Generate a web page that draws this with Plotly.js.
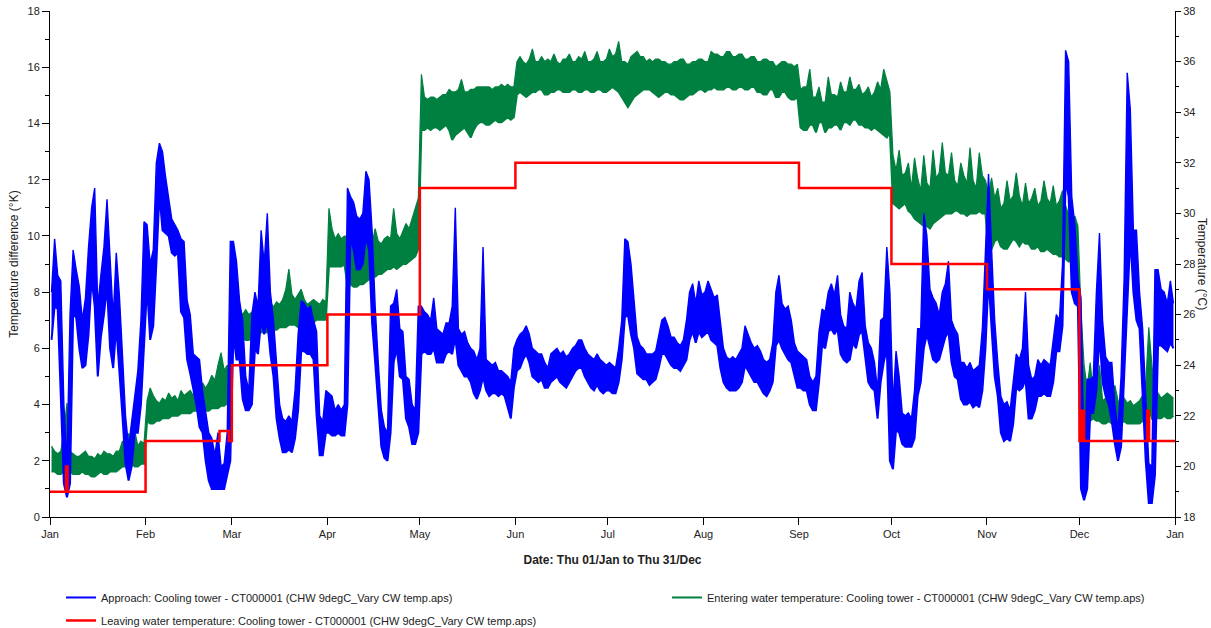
<!DOCTYPE html>
<html>
<head>
<meta charset="utf-8">
<script src="https://cdn.plot.ly/plotly-3.0.1.min.js"></script>
<style>html,body{margin:0;padding:0;background:#fff}#chart{width:1211px;height:628px}</style>
</head>
<body>
<div id="chart"></div>
<script>
// ---- data (year 2015: Thu 01/Jan to Thu 31/Dec), daily high / low of hourly readings ----
const monthStarts = ['2015-01-01','2015-02-01','2015-03-01','2015-04-01','2015-05-01','2015-06-01','2015-07-01','2015-08-01','2015-09-01','2015-10-01','2015-11-01','2015-12-01','2016-01-01'];
const monthLabels = ['Jan','Feb','Mar','Apr','May','Jun','Jul','Aug','Sep','Oct','Nov','Dec','Jan'];

// Approach (K)
const approachHigh = [
  8.0,9.9,8.6,8.4,4.0,1.9,7.2,9.5,8.8,8.2,7.0,7.8,9.6,11.0,11.7,7.5,8.6,9.6,11.3,9.0,7.1,9.4,7.9,5.8,3.6,2.5,3.4,4.4,5.2,7.0,10.5,
  10.4,9.0,9.5,12.6,13.3,13.0,12.1,11.4,10.6,10.4,10.2,9.9,9.8,7.7,7.2,5.8,5.7,5.6,4.5,3.8,3.0,2.8,2.2,3.0,1.8,1.9,3.0,9.8,
  9.8,9.1,7.7,7.0,5.0,4.5,7.2,8.0,7.5,10.2,9.0,10.8,8.0,7.0,5.5,4.0,3.5,3.4,3.6,3.4,4.5,6.5,7.7,7.6,7.4,7.5,7.0,6.6,3.6,3.4,4.5,
  4.4,4.3,3.8,4.0,3.8,4.0,11.7,11.4,11.2,10.7,10.6,10.8,12.3,12.0,10.2,7.5,5.5,3.8,3.2,3.0,7.5,7.6,8.1,6.7,6.6,5.0,4.9,4.0,3.8,7.5,
  7.5,7.3,7.2,7.0,7.8,6.7,6.6,6.5,6.9,6.9,7.5,11.0,6.7,6.5,6.6,6.2,6.0,5.9,5.6,6.0,9.6,5.6,5.5,5.4,5.5,5.2,5.2,5.1,5.0,4.8,6.0,
  6.3,6.5,6.6,6.8,6.5,6.0,5.9,5.8,5.8,5.5,5.3,5.8,5.9,6.0,5.8,5.9,5.7,5.8,6.0,6.1,6.3,6.3,6.0,5.8,5.7,5.6,5.8,5.6,5.5,5.4,
  5.5,5.4,5.3,6.0,7.0,9.9,9.8,9.0,7.6,6.4,6.1,6.0,5.8,5.8,5.8,5.9,6.4,7.0,7.1,6.8,6.4,6.4,6.2,6.1,6.3,7.0,8.0,8.3,7.6,8.4,7.9,
  8.0,8.4,8.1,7.8,7.9,7.0,6.0,5.7,5.6,5.7,5.6,5.8,6.0,6.8,6.5,6.2,6.0,6.1,5.9,5.6,5.5,5.6,6.2,8.0,8.6,7.6,7.4,7.5,7.0,6.2,5.9,
  5.8,5.7,5.6,5.0,4.8,5.0,6.6,7.4,7.3,8.0,8.3,7.9,8.6,7.2,6.8,6.7,8.0,7.6,7.4,8.4,8.7,6.8,6.2,6.0,5.5,4.5,7.0,7.1,9.6,8.0,
  4.0,5.9,5.0,3.7,3.6,3.7,3.5,4.5,6.7,6.7,10.8,10.0,8.1,7.8,7.6,7.2,8.0,8.3,9.1,7.0,6.7,6.5,5.5,5.5,5.3,5.5,5.2,5.3,5.4,6.7,9.7,
  12.2,9.5,7.0,5.5,4.3,4.0,4.1,3.8,4.8,5.8,5.6,6.0,8.0,5.4,4.9,5.0,5.6,5.4,5.6,5.5,5.4,6.3,7.2,7.0,9.0,16.6,16.2,11.4,10.4,8.5,
  7.8,1.9,4.9,4.9,5.0,8.0,10.1,7.0,5.7,5.5,5.5,4.0,3.1,5.0,8.5,15.8,14.5,10.2,10.2,8.0,6.7,4.3,1.9,1.8,8.8,8.8,8.1,8.0,7.6,8.4,7.6
];
const approachLow = [
  6.3,7.5,7.4,4.0,1.2,0.7,1.2,7.2,7.1,6.0,5.3,5.4,6.5,8.5,7.5,5.0,6.4,7.2,8.2,6.0,5.3,6.8,5.3,3.6,1.9,1.3,1.8,3.0,3.0,4.0,6.1,
  8.2,6.3,6.8,9.0,11.5,10.2,10.1,10.0,9.4,9.3,9.4,7.3,7.1,5.6,5.1,4.6,4.0,3.2,3.0,2.0,1.3,1.0,1.0,1.0,1.0,1.0,1.5,2.0,
  6.5,5.6,5.6,4.2,3.8,3.8,4.0,6.0,5.8,7.0,6.5,7.0,5.8,5.0,3.5,2.8,2.3,2.3,2.4,2.3,2.8,3.8,5.9,5.9,5.8,5.8,5.6,3.6,2.2,2.2,3.0,
  3.0,2.9,2.9,3.0,2.9,2.9,4.0,10.0,9.5,8.8,8.8,9.0,10.0,9.5,6.9,5.5,3.8,2.5,2.1,2.0,3.0,5.5,6.0,5.0,4.9,3.5,3.2,2.6,2.6,3.0,
  5.8,5.9,5.8,5.8,6.0,5.5,5.5,5.5,5.8,5.9,5.8,6.4,5.4,5.2,5.0,5.0,4.8,4.4,4.2,4.5,5.0,4.5,4.3,4.4,4.4,4.3,4.4,4.3,3.9,3.5,4.6,
  5.2,5.3,5.6,5.8,5.5,5.0,4.9,4.8,4.9,4.6,4.6,4.8,4.9,5.0,4.8,4.7,4.6,4.8,5.0,5.2,5.3,5.3,5.0,4.8,4.6,4.5,4.7,4.5,4.4,4.5,
  4.5,4.4,4.4,4.8,5.6,7.1,7.2,6.5,6.0,5.1,5.0,4.9,4.9,4.7,4.8,4.9,5.3,5.8,5.8,5.6,5.4,5.3,5.3,5.2,5.4,5.6,6.3,6.6,6.2,6.6,6.4,
  6.5,6.6,6.3,6.2,6.1,5.3,4.8,4.6,4.5,4.5,4.5,4.6,4.8,5.4,5.2,5.0,4.8,4.8,4.6,4.4,4.3,4.5,4.8,6.1,6.3,6.0,5.8,5.6,5.5,5.0,4.6,
  4.6,4.5,4.5,4.0,3.8,3.8,4.8,6.1,6.0,6.6,6.7,6.5,6.7,5.8,5.6,5.5,5.6,6.2,6.0,6.5,6.6,5.6,4.8,4.6,4.5,3.5,4.8,5.5,6.0,2.0,
  1.7,3.1,3.0,2.6,2.5,2.5,2.5,2.8,4.3,4.8,6.0,6.5,6.0,5.6,5.5,5.6,6.0,6.4,6.6,5.5,5.0,4.9,4.2,4.0,4.0,4.1,3.9,4.0,3.9,4.5,6.0,
  8.5,6.7,5.0,4.3,3.0,2.7,2.8,2.7,3.3,4.6,4.5,4.6,4.9,3.5,3.5,3.8,4.3,4.3,4.4,4.3,4.3,4.8,5.9,5.9,6.8,12.0,11.4,8.0,7.6,7.5,
  1.0,0.6,1.0,3.7,3.7,4.5,6.5,4.8,4.3,4.0,3.4,2.6,2.0,2.5,5.0,8.0,10.0,8.0,7.0,6.7,4.3,2.0,0.5,0.5,1.5,6.1,6.1,6.0,5.9,6.2,6.0
];

// Entering water temperature (degC)
const enteringHigh = [
  20.8,20.6,20.5,20.6,21.4,22.5,20.6,20.5,20.4,20.4,20.5,20.6,20.4,20.4,20.3,20.5,20.4,20.6,20.5,20.5,20.4,20.6,20.6,21.0,20.8,21.3,20.9,21.4,20.8,21.0,20.9,
  22.6,23.1,22.8,22.6,22.5,22.7,22.6,22.9,22.7,22.8,22.6,23.0,22.8,22.9,23.0,22.8,23.1,23.0,23.3,23.1,23.3,23.6,23.4,24.0,24.5,23.8,24.0,23.6,
  26.6,26.7,26.2,26.0,26.2,26.0,26.1,26.0,26.4,26.2,26.4,27.0,26.5,26.3,26.5,26.4,26.6,27.0,27.8,26.8,26.6,26.8,27.0,26.6,26.4,26.5,26.6,26.5,26.4,26.6,26.5,
  30.2,29.4,29.0,29.2,29.0,29.1,29.1,28.8,28.8,28.9,28.9,29.0,29.0,28.7,28.8,29.4,28.9,28.8,29.0,29.1,29.0,30.2,29.2,29.0,29.3,29.6,29.4,29.8,30.2,30.6,
  35.5,34.6,34.5,34.6,34.6,34.5,34.6,34.7,34.7,34.9,34.8,34.8,34.9,35.3,34.8,34.8,34.9,34.9,35.0,35.0,35.0,35.0,35.0,34.9,35.0,35.0,35.1,35.0,35.1,35.0,35.0,
  36.0,36.2,36.0,35.9,36.1,36.5,36.0,36.0,36.2,36.0,36.1,36.0,36.3,36.0,35.9,36.1,36.1,36.3,36.0,36.0,36.2,36.1,36.4,36.0,36.0,36.1,36.4,36.0,36.0,36.1,
  36.5,36.2,36.3,36.8,36.0,36.0,35.9,36.2,36.3,36.4,36.2,36.2,36.0,36.1,36.0,36.1,36.1,36.0,36.0,35.9,35.9,36.0,36.0,36.1,36.1,35.9,35.9,36.0,36.0,36.1,36.1,
  36.0,36.0,36.4,36.3,36.3,36.2,36.2,36.4,36.4,36.2,36.2,36.3,36.3,36.1,36.1,36.2,36.2,36.0,36.0,36.1,36.1,36.0,36.0,35.8,35.9,36.0,36.0,35.9,35.9,35.8,35.9,
  34.9,35.0,35.0,35.7,34.6,34.6,35.0,34.4,34.4,35.4,34.7,34.7,34.6,35.2,34.8,34.8,35.4,34.9,34.9,35.1,34.7,34.8,35.0,34.6,34.8,35.2,34.9,35.7,35.2,34.8,
  32.3,31.7,32.5,31.5,31.6,32.0,31.0,32.2,31.4,30.9,32.3,31.2,31.0,32.5,31.4,31.6,32.8,31.6,31.5,32.4,31.3,31.1,32.0,31.5,31.2,32.6,31.3,31.0,32.4,31.5,31.3,
  30.8,31.4,30.6,31.0,30.2,30.4,31.3,30.5,30.7,31.6,30.7,30.3,31.2,30.4,30.6,31.0,30.3,30.5,31.3,30.6,30.4,31.1,30.3,30.5,30.9,30.3,29.9,29.6,29.9,29.5,
  26.1,24.0,23.1,24.1,22.8,23.0,24.0,22.6,22.7,22.5,22.8,23.2,22.6,22.5,22.7,22.5,22.6,22.4,22.5,22.6,22.8,23.2,25.5,24.0,22.9,22.9,22.7,22.8,22.9,22.8,22.7
];
const enteringLow = [
  19.8,19.8,19.7,19.7,19.8,19.8,19.8,19.7,19.7,19.7,19.8,19.7,19.7,19.6,19.6,19.7,19.8,19.7,19.7,19.8,19.8,19.8,19.9,20.0,20.0,20.1,20.1,20.0,20.0,20.1,20.1,
  21.8,21.7,21.7,21.8,21.8,21.9,21.9,21.9,22.0,22.0,22.0,22.1,22.1,22.1,22.1,22.2,22.2,22.2,22.2,22.2,22.2,22.3,22.3,22.3,22.4,22.4,22.5,22.5,
  25.1,25.0,25.0,25.1,25.0,25.0,25.1,25.2,25.2,25.3,25.3,25.3,25.3,25.4,25.4,25.5,25.5,25.5,25.6,25.6,25.6,25.5,25.5,25.6,25.6,25.7,25.7,25.8,25.8,25.8,25.8,
  27.9,27.9,27.9,27.9,27.9,28.0,27.2,27.2,27.1,27.1,27.2,27.2,27.3,27.4,27.5,27.5,27.6,27.6,27.7,27.8,27.8,27.9,27.8,27.9,28.0,28.0,28.1,28.2,28.3,28.6,
  33.3,33.3,33.4,33.3,33.4,33.4,33.3,33.4,33.5,33.3,32.9,33.1,33.2,33.3,33.4,33.2,33.0,33.3,33.5,33.6,33.6,33.5,33.5,33.6,33.7,33.6,33.6,33.7,33.8,33.7,33.8,
  34.7,34.8,34.7,34.6,34.7,34.8,34.8,34.9,34.9,34.7,34.7,34.8,34.8,34.9,34.9,34.8,34.8,34.8,34.9,34.9,34.8,34.8,34.9,34.9,34.8,34.8,34.9,34.9,34.8,34.8,
  34.9,35.0,34.9,34.8,34.6,34.4,34.2,34.4,34.6,34.7,34.8,34.9,34.9,34.9,34.8,34.7,34.6,34.7,34.8,34.8,34.7,34.7,34.6,34.5,34.5,34.6,34.7,34.7,34.8,34.9,34.9,
  34.8,34.9,34.9,35.0,34.9,34.9,34.9,35.0,35.0,34.9,34.9,35.0,35.0,34.9,34.9,35.0,35.0,34.8,34.8,34.7,34.7,34.9,34.9,34.6,34.6,34.8,34.8,34.6,34.5,34.5,34.6,
  33.4,33.3,33.3,33.5,33.5,33.2,33.6,33.6,33.2,33.4,33.4,33.5,33.5,33.3,33.6,33.6,33.5,33.7,33.7,33.5,33.5,33.4,33.4,33.3,33.4,33.3,33.2,33.1,33.0,33.2,
  30.4,30.3,30.2,30.3,30.4,30.1,30.0,29.8,29.7,29.6,29.5,29.5,29.4,29.6,29.7,29.8,29.9,30.0,30.0,30.0,30.1,30.1,30.0,30.0,29.9,30.0,30.0,30.0,30.1,30.0,30.0,
  28.4,28.6,28.9,29.0,28.7,28.6,28.6,28.8,29.0,28.9,28.7,28.9,28.8,28.8,28.6,28.6,28.7,28.5,28.5,28.6,28.5,28.4,28.4,28.3,28.3,28.2,28.1,28.1,28.0,28.0,
  22.2,21.9,22.0,21.8,21.9,21.8,21.8,21.7,21.7,21.8,21.7,21.7,21.7,21.7,21.8,21.7,21.7,21.7,21.7,21.7,21.8,22.0,22.3,21.9,22.0,21.9,21.9,22.0,21.9,21.9,22.0
];

// Leaving water temperature (degC), step changes: day-of-year where value starts
const leavingDays = [0, 5.2, 5.7, 31, 55, 58, 59, 90, 120, 151, 243, 273, 304, 334, 334.8, 335.5, 356, 356.6, 365];
const leavingTemp = [19, 20.0, 19, 21, 21.4, 21, 24, 26, 31, 32, 31, 28, 27, 21, 22.2, 21, 22.2, 21, 21];

// ---- build ----
const DAY0 = Date.UTC(2015, 0, 1);
const MSDAY = 86400000;
const approachX = approachHigh.map((_, i) => DAY0 + (i + 0.5) * MSDAY);
const enteringX = enteringHigh.map((_, i) => DAY0 + (i + 0.5) * MSDAY);
const leavingX = leavingDays.map(d => DAY0 + d * MSDAY);

const FONT = 'Liberation Sans, Arial, sans-serif';
const TXT = '#222';
const BLUE = '#0000ff';
const GREEN = '#008040';
const RED = '#ff0000';

const traces = [
  {x: approachX, y: approachLow, type: 'scatter', mode: 'lines', yaxis: 'y2',
   name: 'Approach: Cooling tower - CT000001 (CHW 9degC_Vary CW temp.aps)',
   legend: 'legend', legendgroup: 'a',
   line: {color: BLUE, width: 2}},
  {x: approachX, y: approachHigh, type: 'scatter', mode: 'lines', yaxis: 'y2',
   showlegend: false, legendgroup: 'a', fill: 'tonexty', fillcolor: BLUE,
   line: {color: BLUE, width: 1.4}},
  {x: enteringX, y: enteringLow, type: 'scatter', mode: 'lines', yaxis: 'y',
   name: 'Entering water temperature: Cooling tower - CT000001 (CHW 9degC_Vary CW temp.aps)',
   legend: 'legend2', legendgroup: 'b',
   line: {color: GREEN, width: 2}},
  {x: enteringX, y: enteringHigh, type: 'scatter', mode: 'lines', yaxis: 'y',
   showlegend: false, legendgroup: 'b', fill: 'tonexty', fillcolor: GREEN,
   line: {color: GREEN, width: 1.2}},
  {x: leavingX, y: leavingTemp, type: 'scatter', mode: 'lines', yaxis: 'y3',
   name: 'Leaving water temperature: Cooling tower - CT000001 (CHW 9degC_Vary CW temp.aps)',
   legend: 'legend', legendgroup: 'c',
   line: {color: RED, width: 2.5, shape: 'hv'}}
];

const axisCommon = {
  showline: true, linecolor: '#000', linewidth: 1, showgrid: false, zeroline: false,
  ticks: 'outside', ticklen: 7, tickcolor: '#000', tickwidth: 1,
  tickfont: {family: FONT, size: 11, color: TXT}
};

const legendFont = {family: FONT, size: 11, color: TXT};

const layout = {
  width: 1211, height: 628,
  margin: {l: 50, r: 36, t: 11, b: 111, pad: 0, autoexpand: false},
  paper_bgcolor: '#fff', plot_bgcolor: '#fff',
  font: {family: FONT, size: 11, color: TXT},
  showlegend: true,
  xaxis: Object.assign({}, axisCommon, {
    type: 'date', range: ['2015-01-01', '2016-01-01'],
    tickmode: 'array', tickvals: monthStarts, ticktext: monthLabels,
    title: {text: '<b>Date: Thu 01/Jan to Thu 31/Dec</b>', font: {family: FONT, size: 12, color: TXT}, standoff: 16}
  }),
  yaxis: Object.assign({}, axisCommon, {
    side: 'right', range: [18, 38], dtick: 2, tick0: 18, ticklen: 5,
    minor: {dtick: 1, ticks: 'outside', ticklen: 3, tickcolor: '#000'}
  }),
  yaxis2: Object.assign({}, axisCommon, {
    overlaying: 'y', side: 'left', range: [0, 18], dtick: 2, tick0: 0,
    minor: {dtick: 1, ticks: 'outside', ticklen: 4, tickcolor: '#000'},
    title: {text: 'Temperature difference (°K)', font: {family: FONT, size: 12, color: TXT}, standoff: 6}
  }),
  yaxis3: {overlaying: 'y', range: [18, 38], visible: false, showgrid: false, zeroline: false},
  legend: {
    orientation: 'v', x: 0.0098, xanchor: 'left', y: -0.1304, yanchor: 'top',
    itemwidth: 30, tracegroupgap: 4, font: legendFont, bgcolor: 'rgba(0,0,0,0)'
  },
  legend2: {
    orientation: 'v', x: 0.5484, xanchor: 'left', y: -0.1304, yanchor: 'top',
    itemwidth: 30, font: legendFont, bgcolor: 'rgba(0,0,0,0)'
  },
  annotations: [{
    text: 'Temperature (°C)', textangle: 90, xref: 'paper', yref: 'paper',
    x: 1.024, y: 0.5, xanchor: 'center', yanchor: 'middle', showarrow: false,
    font: {family: FONT, size: 12, color: TXT}
  }]
};

Plotly.newPlot('chart', traces, layout, {staticPlot: true, displayModeBar: false});
</script>
</body>
</html>
